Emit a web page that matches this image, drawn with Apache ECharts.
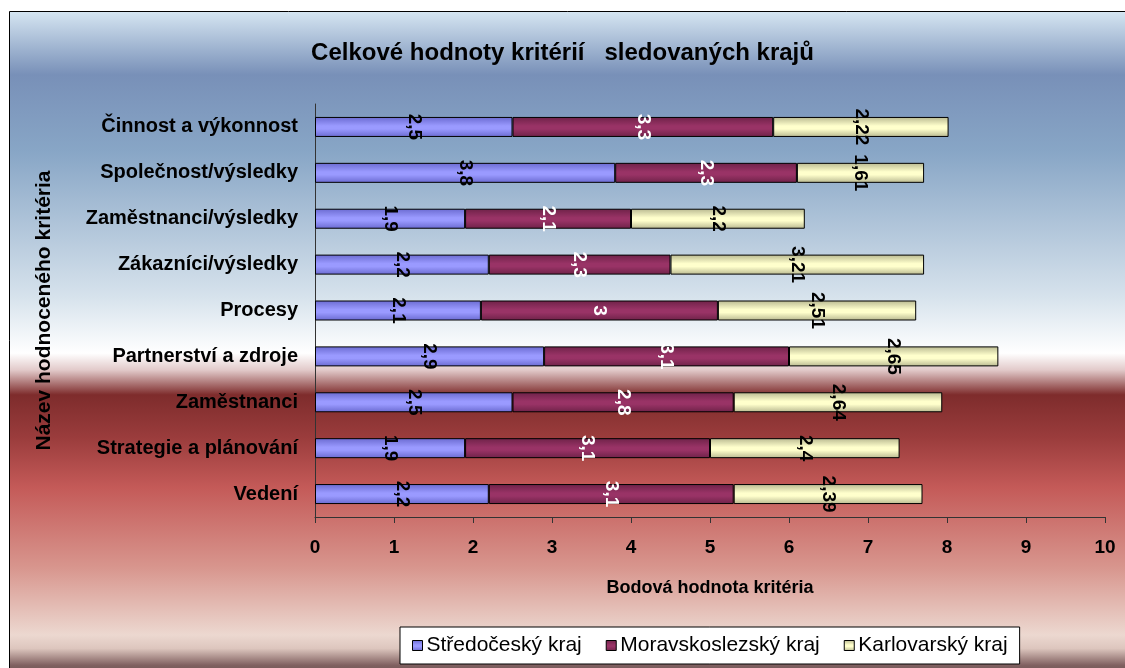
<!DOCTYPE html>
<html>
<head>
<meta charset="utf-8">
<title>Celkové hodnoty kritérií</title>
<script src="https://cdn.jsdelivr.net/npm/echarts@6/dist/echarts.min.js"></script>
<style>
  html, body { margin: 0; padding: 0; background: #fff; }
  #chart { width: 1125px; height: 668px; }
</style>
</head>
<body>
<div id="chart"></div>
<script>
// kategorie (shora dolu)
var categories = ['Činnost a výkonnost', 'Společnost/výsledky', 'Zaměstnanci/výsledky',
    'Zákazníci/výsledky', 'Procesy', 'Partnerství a zdroje', 'Zaměstnanci',
    'Strategie a plánování', 'Vedení'];
var seriesNames = ['Středočeský kraj', 'Moravskoslezský kraj', 'Karlovarský kraj'];
var stredocesky = [2.5, 3.8, 1.9, 2.2, 2.1, 2.9, 2.5, 1.9, 2.2];
var moravskoslezsky = [3.3, 2.3, 2.1, 2.3, 3, 3.1, 2.8, 3.1, 3.1];
var karlovarsky = [2.22, 1.61, 2.2, 3.21, 2.51, 2.65, 2.64, 2.4, 2.39];
var xTicks = [0, 10, 1]; // min, max, interval

var narrow = "'Liberation Sans Narrow', 'Arial Narrow', 'Liberation Sans', Arial, sans-serif";
var arial = "'Liberation Sans', Arial, sans-serif";

function barGrad(dark, light) {
    // stinovani sloupce jako v Excelu
    return new echarts.graphic.LinearGradient(0, 0, 0, 1, [
        { offset: 0, color: dark },
        { offset: 0.45, color: light },
        { offset: 0.6, color: light },
        { offset: 1, color: dark }
    ]);
}

function makeSeries(name, data, dark, light, labelColor) {
    return {
        name: name,
        type: 'bar',
        stack: 'total',
        barWidth: 20,
        data: data,
        itemStyle: {
            color: barGrad(dark, light),
            borderColor: '#000',
            borderWidth: 1
        },
        label: {
            show: true,
            position: 'inside',
            rotate: -90,
            color: labelColor,
            fontFamily: arial,
            fontWeight: 'bold',
            fontSize: 19,
            formatter: function (p) { return String(p.value).replace('.', ','); }
        }
    };
}

var myChart = echarts.init(document.getElementById('chart'));
var option = {
    backgroundColor: '#ffffff',
    animation: false,
    graphic: [{
        type: 'rect',
        z: -10,
        shape: { x: 9.5, y: 11.5, width: 1130, height: 670 },
        style: {
            stroke: '#000',
            lineWidth: 1,
            fill: new echarts.graphic.LinearGradient(0, 0, 0, 1, [
                { offset: 0, color: '#d6e6f2' },
                { offset: 0.095, color: '#7890b8' },
                { offset: 0.21, color: '#88a6c6' },
                { offset: 0.425, color: '#d6e2ec' },
                { offset: 0.51, color: '#ffffff' },
                { offset: 0.535, color: '#e2caca' },
                { offset: 0.572, color: '#7e2c2c' },
                { offset: 0.635, color: '#9a3c3c' },
                { offset: 0.71, color: '#c45a58' },
                { offset: 0.83, color: '#d8968e' },
                { offset: 0.93, color: '#ecd8d0' },
                { offset: 0.95, color: '#ddc6be' },
                { offset: 0.975, color: '#806060' },
                { offset: 1, color: '#5a4848' }
            ])
        }
    }],
    title: {
        text: 'Celkové hodnoty kritérií   sledovaných krajů',
        left: 'center',
        top: 36,
        textStyle: { fontFamily: arial, fontWeight: 'bold', fontSize: 24, color: '#000' }
    },
    legend: {
        data: seriesNames,
        left: 400,
        top: 627,
        backgroundColor: '#ffffff',
        borderColor: '#000',
        borderWidth: 1,
        borderRadius: 0,
        padding: [8, 12, 8, 12],
        itemGap: 24,
        itemWidth: 10,
        itemHeight: 10,
        icon: 'rect',
        itemStyle: { borderColor: '#000', borderWidth: 1 },
        textStyle: { fontFamily: narrow, fontSize: 21, color: '#000', padding: [0, 0, 0, -1] }
    },
    grid: { left: 315, right: 20, top: 104, bottom: 151, containLabel: false },
    xAxis: {
        type: 'value',
        min: xTicks[0],
        max: xTicks[1],
        interval: xTicks[2],
        name: 'Bodová hodnota kritéria',
        nameLocation: 'middle',
        nameGap: 62,
        nameTextStyle: { fontFamily: narrow, fontWeight: 'bold', fontSize: 18, color: '#000' },
        axisLine: { show: true, lineStyle: { color: '#333', width: 1 } },
        axisTick: { show: true, length: 6, lineStyle: { color: '#333' } },
        axisLabel: { fontFamily: narrow, fontWeight: 'bold', fontSize: 19, color: '#000', margin: 21 },
        splitLine: { show: false }
    },
    yAxis: {
        type: 'category',
        inverse: true,
        data: categories,
        name: 'Název hodnoceného kritéria',
        nameLocation: 'middle',
        nameGap: 260,
        nameTextStyle: { fontFamily: arial, fontWeight: 'bold', fontSize: 21, color: '#000' },
        axisLine: { show: true, lineStyle: { color: '#333', width: 1 } },
        axisTick: { show: false },
        axisLabel: { fontFamily: arial, fontWeight: 'bold', fontSize: 20, color: '#000', margin: 17 }
    },
    series: [
        makeSeries(seriesNames[0], stredocesky, '#6a6ad0', '#9a9aff', '#000'),
        makeSeries(seriesNames[1], moravskoslezsky, '#6e2248', '#993366', '#fff'),
        makeSeries(seriesNames[2], karlovarsky, '#b8b890', '#ffffcc', '#000')
    ]
};
myChart.setOption(option);
window.addEventListener('resize', function () {
    myChart.resize();
});
</script>
</body>
</html>
